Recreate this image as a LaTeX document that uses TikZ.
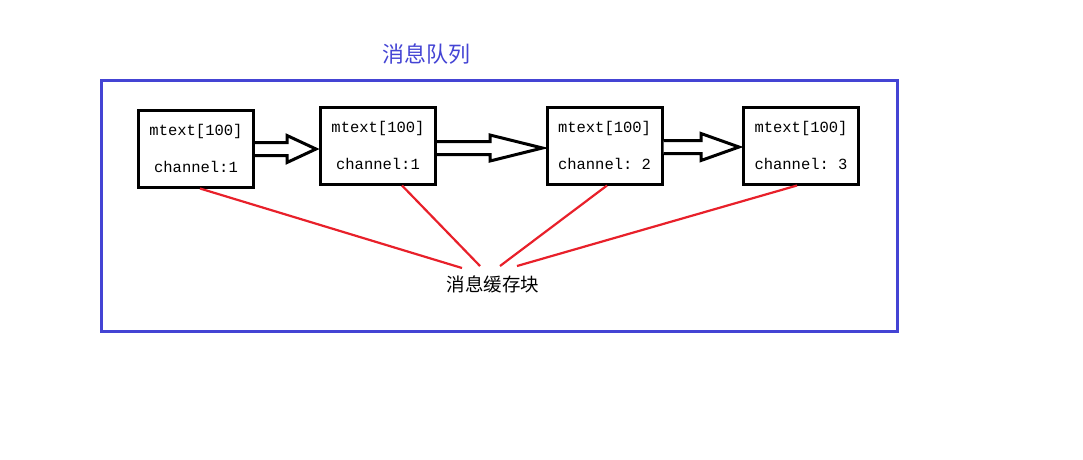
\documentclass[tikz,border=0pt]{standalone}
\usepackage{fontspec}
\setmonofont{Liberation Mono}
\newfontfamily\cjk{Noto Sans CJK SC}
\usetikzlibrary{calc}
\definecolor{qblue}{HTML}{4444D4}
\definecolor{qred}{HTML}{E8202A}
\tikzset{
  msgbox/.style={draw=black, line width=3pt, minimum width=115pt, minimum height=77pt,
    inner sep=0pt, align=center, font=\ttfamily\fontsize{15.5}{37}\selectfont},
  blockarr/.style={draw=black, line width=3pt, fill=white, line join=miter},
  redline/.style={draw=qred, line width=2.2pt},
}
\newcommand{\blockarrow}[5]{% from, to, y (px), head start x (px), head half
  \draw[blockarr] let \p1=(#1.east), \p2=(#2.west) in
    (\x1,-#3pt+6.5pt) -- (#4pt,-#3pt+6.5pt) -- (#4pt,-#3pt+#5pt) -- (\x2-3pt,-#3pt)
    -- (#4pt,-#3pt-#5pt) -- (#4pt,-#3pt-6.5pt) -- (\x1,-#3pt-6.5pt);
}
\begin{document}
\begin{tikzpicture}[x=1pt,y=-1pt]
\useasboundingbox (0,0) rectangle (1083,459);
% outer frame
\node[draw=qblue, line width=3pt, minimum width=796pt, minimum height=251pt, inner sep=0pt] (frame) at (499,205.5) {};
\node[text=qblue, font=\cjk\fontsize{22}{22}\selectfont] (title) at (426,54) {消息队列};
% boxes
\node[msgbox] (b1) at (196,148.5) {mtext[100]\\channel:1};
\node[msgbox] (b2) at (378,145.5) {mtext[100]\\channel:1};
\node[msgbox] (b3) at (604.5,145.5) {mtext[100]\\channel: 2};
\node[msgbox] (b4) at (801,145.5) {mtext[100]\\channel: 3};
% block arrows
\blockarrow{b1}{b2}{149}{287}{13.5}
\blockarrow{b2}{b3}{148}{490}{13}
\blockarrow{b3}{b4}{147}{701}{13.5}
% label
\node[font=\cjk\fontsize{18.5}{18.5}\selectfont] (lbl) at (493,284) {消息缓存块};
\coordinate (r1) at (462,268);
\coordinate (r2) at (480,266);
\coordinate (r3) at (500,266);
\coordinate (r4) at (517,266);
\draw[redline] ([xshift=4pt]b1.south) -- (r1);
\draw[redline] ([xshift=24pt]b2.south) -- (r2);
\draw[redline] ([xshift=2.5pt]b3.south) -- (r3);
\draw[redline] ([xshift=-4pt]b4.south) -- (r4);
\end{tikzpicture}
\end{document}
